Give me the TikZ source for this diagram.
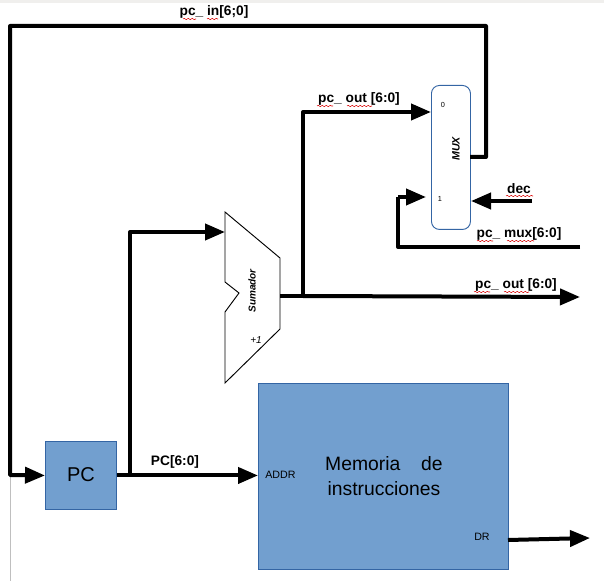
\documentclass[tikz,border=0pt]{standalone}
\usepackage{fontspec}
\setmainfont{Liberation Sans}
\usepackage{tikz}
\usetikzlibrary{arrows.meta,decorations.pathmorphing}

\definecolor{blockblue}{HTML}{729FCF}
\definecolor{blockedge}{HTML}{3465A4}
\definecolor{stripgray}{HTML}{F0EFED}

\tikzset{
  bus/.style={line width=3pt,black,line join=round},
  busarrow/.style={bus,-{Triangle[length=15pt,width=12pt]}},
  block/.style={draw=blockedge,fill=blockblue,line width=0.7pt,inner sep=0pt,anchor=north west},
  signal/.style={font=\fontsize{10.3}{12}\selectfont\bfseries,inner sep=0pt},
  small/.style={font=\fontsize{8}{10}\selectfont,inner sep=0pt},
  spell/.style={red!85!black,line width=0.4pt,decorate,decoration={snake,amplitude=0.5pt,segment length=3pt}}
}

\begin{document}
\begin{tikzpicture}[x=0.75pt,y=-0.75pt]
\useasboundingbox (0,0) rectangle (604,581);
\fill[stripgray] (0,0) rectangle (604,3);
\draw[black!25,line width=0.6pt] (10.5,475) -- (10.5,581);

% blocks
\node[block,minimum width=53.25pt,minimum height=51pt] (pc) at (45,441) {};
\node[font=\fontsize{15}{18}\selectfont,inner sep=0pt] (pclabel) at (81,475) {PC};
\node[block,minimum width=187.5pt,minimum height=139.5pt] (mem) at (258,383) {};
\node[font=\fontsize{14.5}{18}\selectfont,inner sep=0pt,align=center] (memlabel) at (384,476) {Memoria\hspace{0.8em} de\\[1pt]instrucciones};
\node[small,anchor=west] (addr) at (265,475) {ADDR};
\node[small,anchor=west] (dr) at (474,537) {DR};
\node[draw=blockedge,fill=white,line width=0.7pt,rounded corners=6pt,inner sep=0pt,anchor=north west,minimum width=29.25pt,minimum height=108pt] (mux) at (431,85) {};
\node[font=\fontsize{8}{10}\selectfont\bfseries\itshape,inner sep=0pt,rotate=90] (muxlabel) at (456,149) {MUX};
\node[font=\fontsize{5.5}{7}\selectfont,inner sep=0pt] (mux0) at (443,105) {0};
\node[font=\fontsize{5.5}{7}\selectfont,inner sep=0pt] (mux1) at (440,199) {1};

% sumador
\draw[black,line width=0.7pt,fill=white] (225,212) -- (280,258) -- (280,329) -- (225,383) -- (225,312) -- (239,293) -- (225,282) -- cycle;
\node[font=\fontsize{7.5}{9}\selectfont\bfseries\itshape,inner sep=0pt,rotate=90] (sum) at (252,291) {Sumador};
\node[font=\fontsize{7.5}{9}\selectfont\itshape,inner sep=0pt] (plusone) at (256,340) {+1};
\coordinate (sumin) at (225,232);
\coordinate (sumout) at (280,296);

% bus points
\coordinate (pcbranch) at (130,475);
\coordinate (sumbranch) at (303,296);
\coordinate (outend) at (580,297);
\coordinate (muxout) at (470,157);
\coordinate (muxzero) at (431,112);
\coordinate (muxone) at (426,197);
\coordinate (muxdec) at (471,201);
\coordinate (decstart) at (532,201);
\coordinate (muxstart) at (580,247);
\coordinate (drstart) at (508,540);
\coordinate (drend) at (590,538);

% buses
\draw[busarrow] (muxout) -- (486,157) -- (486,26) -- (10,26) -- (10,475) -- (pc.west);
\draw[busarrow] (pc.east) -- (mem.west |- pc.east);
\draw[busarrow] (pcbranch) -- (130,232) -- (sumin);
\draw[bus] (sumout) -- (sumbranch);
\draw[busarrow] (sumbranch) -- (outend);
\draw[busarrow] (sumbranch) -- (303,112) -- (muxzero);
\draw[bus] (muxstart) -- (398,247) -- (398,197);
\draw[busarrow] (398,197) -- (muxone);
\draw[busarrow] (decstart) -- (muxdec);
\draw[busarrow] (drstart) -- (drend);

% labels
\node[signal] (pcin) at (214,12) {pc\_ in[6;0]};
\node[signal] (pcoutup) at (359,99) {pc\_ out [6:0]};
\node[signal] (dec) at (519,189) {dec};
\node[signal] (pcmux) at (519,234) {pc\_ mux[6:0]};
\node[signal] (pcoutlow) at (516,285) {pc\_ out [6:0]};
\node[signal] (pcbus) at (175,462) {PC[6:0]};

% spell marks
\draw[spell] (183,19) -- (196,19);
\draw[spell] (207,19) -- (218,19);
\draw[spell] (317,106) -- (333,106);
\draw[spell] (347,106) -- (372,106);
\draw[spell] (506,196) -- (533,196);
\draw[spell] (477,241) -- (493,241);
\draw[spell] (507,241) -- (534,241);
\draw[spell] (474,292) -- (490,292);
\draw[spell] (504,292) -- (529,292);
\end{tikzpicture}
\end{document}
